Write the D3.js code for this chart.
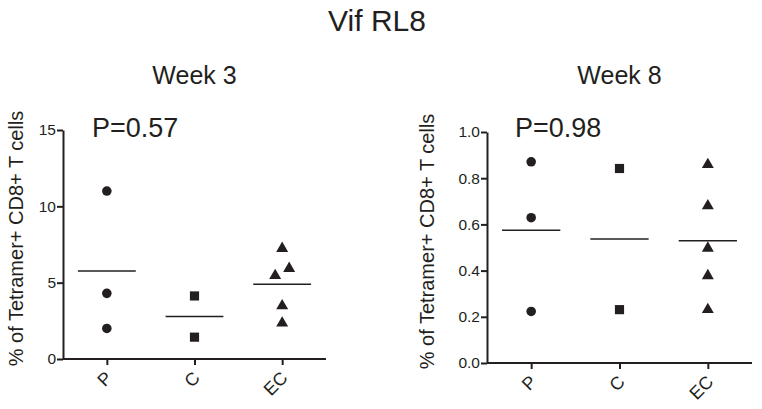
<!DOCTYPE html>
<html><head><meta charset="utf-8">
<script src="https://cdn.jsdelivr.net/npm/d3@7"></script>
<style>
html,body{margin:0;padding:0;background:#fff;}
text{font-family:"Liberation Sans",Arial,sans-serif;fill:#231f20;}
</style></head>
<body>
<svg id="chart" width="762" height="409"></svg>
<script>
const mainTitle = "Vif RL8";
const categories = ["P", "C", "EC"];
const yLabel = "% of Tetramer+ CD8+ T cells";

const week3Title = "Week 3";
const week3P = "P=0.57";
const week3Ticks = [0, 5, 10, 15];
const week3Values = {
  P: [11.0, 4.3, 2.0],
  C: [4.13, 1.43],
  EC: [7.24, 5.93, 5.46, 3.48, 2.35]
};

const week8Title = "Week 8";
const week8P = "P=0.98";
const week8Ticks = [0.0, 0.2, 0.4, 0.6, 0.8, 1.0];
const week8Values = {
  P: [0.871, 0.629, 0.223],
  C: [0.842, 0.231],
  EC: [0.859, 0.680, 0.497, 0.378, 0.231]
};

const ink = "#231f20";
const svg = d3.select("#chart");

svg.append("text").attr("x", 377).attr("y", 31).attr("text-anchor", "middle")
  .style("font-size", "30px").text(mainTitle);

const symbols = { P: d3.symbolCircle, C: d3.symbolSquare, EC: d3.symbolTriangle };
const symSize = { P: 72, C: 84, EC: 62 };

function panel(cfg) {
  const g = svg.append("g");
  const x = d3.scalePoint().domain(categories).range([cfg.x0, cfg.x1]).padding(0.5);
  const y = d3.scaleLinear().domain([cfg.ticks[0], cfg.ticks[cfg.ticks.length - 1]]).range([cfg.yb, cfg.yt]);

  g.append("text").attr("x", (cfg.x0 + cfg.x1) / 2).attr("y", 84).attr("text-anchor", "middle")
    .style("font-size", "25px").text(cfg.title);
  g.append("text").attr("x", cfg.px).attr("y", 137).style("font-size", "27px").text(cfg.p);
  g.append("text").attr("transform", `translate(${cfg.lx},${(cfg.yt + cfg.yb) / 2 - 6}) rotate(-90)`)
    .attr("text-anchor", "middle").style("font-size", "20px").text(yLabel);

  const ya = g.append("g").attr("transform", `translate(${cfg.x0},0)`)
    .call(d3.axisLeft(y).tickValues(cfg.ticks).tickFormat(cfg.fmt).tickSize(6).tickSizeOuter(0).tickPadding(1));
  const xa = g.append("g").attr("transform", `translate(0,${cfg.yb})`)
    .call(d3.axisBottom(x).tickSize(6).tickSizeOuter(0));
  xa.select(".domain").attr("d", `M${cfg.x0},0H${cfg.x1}`);
  [ya, xa].forEach(a => {
    a.select(".domain").attr("stroke", ink).attr("stroke-width", 2);
    a.selectAll(".tick line").attr("stroke", ink).attr("stroke-width", 2);
    a.selectAll("text").attr("fill", ink).style("font-family", '"Liberation Sans",Arial,sans-serif');
  });
  ya.selectAll("text").style("font-size", "15.5px");
  xa.selectAll("text").style("font-size", "18px")
    .attr("x", 0).attr("y", 0).attr("dy", 0)
    .attr("transform", "translate(6,20) rotate(-45)")
    .style("text-anchor", "end");

  const step = x.step();
  categories.forEach(cat => {
    const vals = cfg.values[cat];
    const cx = x(cat);
    const sorted = vals.map((v, i) => ({ v, i })).sort((a, b) => a.v - b.v);
    const offs = new Array(vals.length).fill(0);
    for (let k = 0; k < sorted.length - 1; k++) {
      const a = sorted[k], b = sorted[k + 1];
      if (Math.abs(y(a.v) - y(b.v)) < 10) { offs[a.i] = -7; offs[b.i] = 7; }
    }
    g.selectAll(null).data(vals).enter().append("path")
      .attr("d", d3.symbol().type(symbols[cat]).size(symSize[cat]))
      .attr("transform", (d, i) => `translate(${cx + offs[i]},${y(d)})`)
      .attr("fill", ink);
    const m = d3.mean(vals);
    g.append("line").attr("x1", cx - step * 0.33).attr("x2", cx + step * 0.33)
      .attr("y1", y(m)).attr("y2", y(m)).attr("stroke", ink).attr("stroke-width", 1.5);
  });
}

panel({ title: week3Title, p: week3P, ticks: week3Ticks, values: week3Values, fmt: d3.format("d"),
  x0: 63, x1: 326, yt: 130, yb: 359, px: 92, lx: 23 });
panel({ title: week8Title, p: week8P, ticks: week8Ticks, values: week8Values, fmt: d3.format(".1f"),
  x0: 487, x1: 752, yt: 132, yb: 363, px: 515, lx: 434 });
</script>
</body></html>
